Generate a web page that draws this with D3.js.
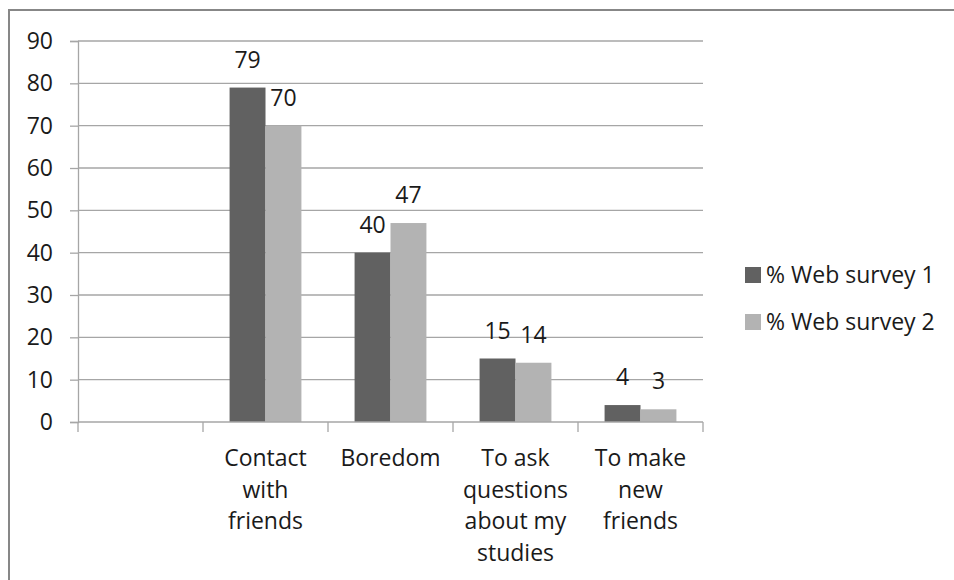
<!DOCTYPE html>
<html>
<head>
<meta charset="utf-8">
<script src="https://cdn.jsdelivr.net/npm/d3@7"></script>
<style>
  body { margin: 0; background: #fff; }
  svg text { font-family: "Open Sans", sans-serif; fill: #1a1a1a; }
</style>
</head>
<body>
<svg id="chart" width="954" height="580"></svg>
<script>
var categories = ["", "Contact with friends", "Boredom", "To ask questions about my studies", "To make new friends"];
var labelLines = [[], ["Contact", "with", "friends"], ["Boredom"], ["To ask", "questions", "about my", "studies"], ["To make", "new", "friends"]];
var series = ["% Web survey 1", "% Web survey 2"];
var survey1 = [null, 79, 40, 15, 4];
var survey2 = [null, 70, 47, 14, 3];
var yTicks = [0, 10, 20, 30, 40, 50, 60, 70, 80, 90];
var colors = ["#616161", "#b3b3b3"];

var svg = d3.select("#chart"),
    margin = {left: 78, right: 251, top: 41, bottom: 158},
    width = +svg.attr("width"),
    height = +svg.attr("height"),
    fs = "23px";

// outer frame, runs off the right and bottom edges
svg.append("rect")
    .attr("x", 9).attr("y", 10)
    .attr("width", 960).attr("height", 600)
    .attr("fill", "none").attr("stroke", "#878787").attr("stroke-width", 2);

var x0 = d3.scaleBand().domain(categories).range([margin.left, width - margin.right]).padding(0);
var x1 = d3.scaleBand().domain(series).range([0, x0.bandwidth()]).paddingInner(0).paddingOuter(0.74);
var y = d3.scaleLinear().domain([0, 90]).range([height - margin.bottom, margin.top]);

var g = svg.append("g");

// gridlines
g.selectAll(".grid").data(yTicks.slice(1)).enter().append("line")
    .attr("x1", margin.left).attr("x2", width - margin.right)
    .attr("y1", function(d) { return y(d); }).attr("y2", function(d) { return y(d); })
    .attr("stroke", "#a6a6a6").attr("stroke-width", 1.3);

// y axis
var yAxis = g.append("g").attr("transform", "translate(" + margin.left + ",0)")
    .call(d3.axisLeft(y).tickValues(yTicks).tickSize(8).tickPadding(17));
yAxis.select(".domain").attr("stroke", "#a6a6a6").attr("stroke-width", 1.3);
yAxis.selectAll(".tick line").attr("stroke", "#a6a6a6").attr("stroke-width", 1.3);
yAxis.selectAll("text").style("font-size", fs).attr("fill", "#1a1a1a");

// bars
var rows = categories.map(function(c, i) { return {cat: c, vals: [survey1[i], survey2[i]]}; });
var grp = g.selectAll(".grp").data(rows).enter().append("g")
    .attr("transform", function(d) { return "translate(" + x0(d.cat) + ",0)"; });

function pairs(d) {
  return d.vals.map(function(v, j) { return {s: series[j], v: v, j: j}; }).filter(function(e) { return e.v != null; });
}

grp.selectAll("rect").data(pairs).enter().append("rect")
    .attr("x", function(d) { return x1(d.s); })
    .attr("width", x1.bandwidth())
    .attr("y", function(d) { return y(d.v); })
    .attr("height", function(d) { return y(0) - y(d.v); })
    .attr("fill", function(d) { return colors[d.j]; });

grp.selectAll(".lbl").data(pairs).enter().append("text")
    .attr("x", function(d) { return x1(d.s) + x1.bandwidth() / 2; })
    .attr("y", function(d) { return y(d.v) - 20; })
    .attr("text-anchor", "middle")
    .style("font-size", fs)
    .text(function(d) { return d.v; });

// x axis
var xg = g.append("g");
xg.append("line")
    .attr("x1", margin.left).attr("x2", width - margin.right)
    .attr("y1", y(0)).attr("y2", y(0))
    .attr("stroke", "#a6a6a6").attr("stroke-width", 1.3);
var edges = categories.map(function(c) { return x0(c); }).concat([width - margin.right]);
xg.selectAll(".xt").data(edges).enter().append("line")
    .attr("x1", function(d) { return d; }).attr("x2", function(d) { return d; })
    .attr("y1", y(0)).attr("y2", y(0) + 10)
    .attr("stroke", "#a6a6a6").attr("stroke-width", 1.3);

xg.selectAll(".xl").data(categories).enter().append("text")
    .attr("text-anchor", "middle")
    .attr("transform", function(d) { return "translate(" + (x0(d) + x0.bandwidth() / 2) + "," + (y(0) + 44) + ")"; })
    .style("font-size", fs)
    .each(function(d, i) {
      var t = d3.select(this);
      labelLines[i].forEach(function(line, k) {
        t.append("tspan").attr("x", 0).attr("y", k * 31.5).text(line);
      });
    });

// legend
var legend = svg.append("g").attr("transform", "translate(745,275)");
var li = legend.selectAll(".li").data(series).enter().append("g")
    .attr("transform", function(d, i) { return "translate(0," + (i * 47) + ")"; });
li.append("rect").attr("x", 0).attr("y", -8).attr("width", 16).attr("height", 16)
    .attr("fill", function(d, i) { return colors[i]; });
li.append("text").attr("x", 21).attr("y", 0).attr("dy", "0.35em")
    .style("font-size", fs)
    .text(function(d) { return d; });
</script>
</body>
</html>
